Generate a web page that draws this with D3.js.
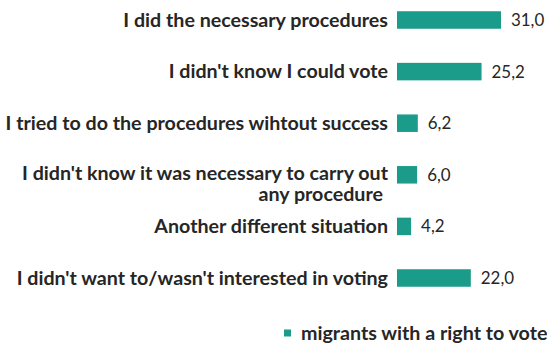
<!DOCTYPE html>
<html>
<head>
<meta charset="utf-8">
<script src="https://cdn.jsdelivr.net/npm/d3@7"></script>
<style>
  html, body { margin: 0; padding: 0; background: #ffffff; }
  svg { display: block; }
</style>
</head>
<body>
<script>
// Reasons given by migrants with a right to vote (%)
const categories = [
  ["I did the necessary procedures"],
  ["I didn't know I could vote"],
  ["I tried to do the procedures wihtout success"],
  ["I didn't know it was necessary to carry out", "any procedure"],
  ["Another different situation"],
  ["I didn't want to/wasn't interested in voting"]
];
const values = [31.0, 25.2, 6.2, 6.0, 4.2, 22.0];
const seriesName = "migrants with a right to vote";

const W = 547, H = 346;
const barColor = "#1b9b89";
const textColor = "#262626";
const fontFamily = "Lato, 'Open Sans', sans-serif";

const svg = d3.select("body").append("svg")
  .attr("width", W).attr("height", H);

const keys = categories.map((c, i) => i);

// bar centres, evenly spaced down the chart
const y = d3.scalePoint().domain(keys).range([20, 278]);
const x = d3.scaleLinear().domain([0, d3.max(values)]).range([397, 501]);
const barH = 17.5;
const lineGap = 21;

// pick a label size so the category text sits where a Calibri label would
const probe = svg.append("text")
  .attr("font-family", fontFamily).attr("font-weight", 700)
  .attr("font-size", 15).text(categories[0][0]);
const probeW = probe.node().getComputedTextLength();
probe.remove();
const labelSize = 15 * 265 / probeW;

const rows = svg.append("g").selectAll("g")
  .data(keys).join("g");

rows.append("rect")
  .attr("x", x(0))
  .attr("y", i => y(i) - barH / 2)
  .attr("width", i => x(values[i]) - x(0))
  .attr("height", barH)
  .attr("fill", barColor);

// category labels, right aligned against the bars; wrapped labels hang below
rows.each(function(i) {
  const lines = categories[i];
  const g = d3.select(this);
  lines.forEach((line, k) => {
    g.append("text")
      .attr("x", k === 0 ? 388 : 383)
      .attr("y", y(i) + k * lineGap - (lines.length > 1 ? 2 : 0))
      .attr("dy", "0.35em")
      .attr("text-anchor", "end")
      .attr("font-family", fontFamily)
      .attr("font-weight", 700)
      .attr("font-size", labelSize)
      .attr("fill", textColor)
      .text(line);
  });
});

// value labels with decimal comma
const fmt = v => d3.format(".1f")(v).replace(".", ",");
rows.append("text")
  .attr("x", i => x(values[i]) + 10)
  .attr("y", i => y(i))
  .attr("dy", "0.35em")
  .attr("font-family", fontFamily)
  .attr("font-size", labelSize * 0.86)
  .attr("fill", textColor)
  .text(i => fmt(values[i]));

// legend
const legend = svg.append("g");
legend.append("rect")
  .attr("x", 284).attr("y", 329.5)
  .attr("width", 7).attr("height", 7)
  .attr("fill", barColor);
legend.append("text")
  .attr("x", 301).attr("y", 333)
  .attr("dy", "0.35em")
  .attr("font-family", fontFamily)
  .attr("font-weight", 700)
  .attr("font-size", labelSize)
  .attr("fill", textColor)
  .text(seriesName);
</script>
</body>
</html>
